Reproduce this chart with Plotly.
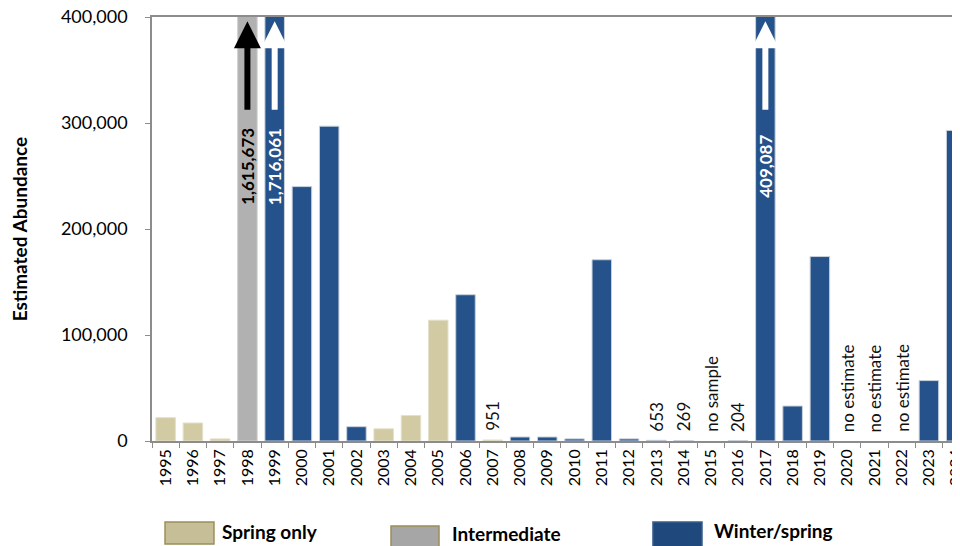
import plotly.graph_objects as go

years = [str(y) for y in range(1995, 2025)]
values = [22000, 17000, 2000, 1615673, 1716061, 240000, 297000, 13500, 11500, 24000,
          114000, 138000, 951, 3800, 3800, 2000, 171000, 2000, 653, 269,
          None, 204, 409087, 33000, 174000, None, None, None, 57000, 293000]
types = ["Spring only", "Spring only", "Spring only", "Intermediate", "Winter/spring",
         "Winter/spring", "Winter/spring", "Winter/spring", "Spring only", "Spring only",
         "Spring only", "Winter/spring", "Spring only", "Winter/spring", "Winter/spring",
         "Winter/spring", "Winter/spring", "Winter/spring", "Winter/spring", "Winter/spring",
         "Winter/spring", "Winter/spring", "Winter/spring", "Winter/spring", "Winter/spring",
         "Winter/spring", "Winter/spring", "Winter/spring", "Winter/spring", "Winter/spring"]
small_labels = {"2007": "951", "2013": "653", "2014": "269", "2015": "no sample",
                "2016": "204", "2020": "no estimate", "2021": "no estimate", "2022": "no estimate"}
big_labels = {"1998": "1,615,673", "1999": "1,716,061", "2017": "409,087"}
y_ticks = [0, 100000, 200000, 300000, 400000]

colors = {"Spring only": "#D1CAA3", "Intermediate": "#B1B1B1", "Winter/spring": "#25528A"}
outline = {"Spring only": "#E4E0CC", "Intermediate": "#D0D0D0", "Winter/spring": "#C9D1DC"}
legend_fill = {"Spring only": "#C5BE96", "Intermediate": "#A6A6A6", "Winter/spring": "#1F497D"}
legend_line = {"Spring only": "#9C8F5A", "Intermediate": "#9C8F5A", "Winter/spring": "#385D8A"}
font = "Lato"

fig = go.Figure()
for t in ["Spring only", "Intermediate", "Winter/spring"]:
    fig.add_trace(go.Bar(
        x=years,
        y=[v if tp == t else None for v, tp in zip(values, types)],
        name=t, marker=dict(color=colors[t], line=dict(color=outline[t], width=1)),
        width=0.716, showlegend=False))

annotations = []
for yr, txt in small_labels.items():
    i = years.index(yr)
    v = values[i] or 0
    annotations.append(dict(x=i, y=v, xref="x", yref="y", text=txt, textangle=-90,
                            showarrow=False, xanchor="center", yanchor="bottom", yshift=7,
                            font=dict(family=font, size=17, color="#111111")))
for yr, txt in big_labels.items():
    i = years.index(yr)
    tp = types[i]
    col = "#000000" if tp == "Intermediate" else "#FFFFFF"
    annotations.append(dict(x=i, y=259000, xref="x", yref="y", text="<b>" + txt + "</b>",
                            textangle=-90, showarrow=False, xanchor="center", yanchor="middle",
                            font=dict(family=font, size=17, color=col)))
    annotations.append(dict(x=i, y=396000, ax=i, ay=311000, axref="x", ayref="y",
                            xref="x", yref="y", text="", showarrow=True, arrowhead=2,
                            arrowsize=0.9, arrowwidth=6, arrowcolor=col))

# legend (drawn as boxes + labels in paper coordinates)
leg = [("Spring only", 0.0161, 0.0767, -0.243, -0.191, 0.0842, -0.2146),
       ("Intermediate", 0.2958, 0.3552, -0.26, -0.2005, 0.3688, -0.217),
       ("Winter/spring", 0.620, 0.6807, -0.26, -0.191, 0.693, -0.21)]
shapes = []
for name, x0, x1, y0, y1, lx, ly in leg:
    shapes.append(dict(type="rect", xref="paper", yref="paper", x0=x0, x1=x1,
                       y0=y0, y1=y1, fillcolor=legend_fill[name],
                       line=dict(color=legend_line[name], width=1.5)))
    annotations.append(dict(xref="paper", yref="paper", x=lx, y=ly, text="<b>" + name + "</b>",
                            showarrow=False, xanchor="left", yanchor="middle",
                            font=dict(family=font, size=19, color="#000000")))

fig.update_layout(
    width=952, height=538, margin=dict(l=144, r=0, t=9, b=105),
    paper_bgcolor="white", plot_bgcolor="white", barmode="overlay",
    annotations=annotations, shapes=shapes,
    xaxis=dict(type="category", range=[-0.5, 29.14], tickangle=-90, showline=True,
               linecolor="#8C8C8C", linewidth=1.5, mirror=True, ticks="outside",
               tickson="boundaries", ticklen=5, tickcolor="#8C8C8C", automargin=False,
               ticklabeloverflow="allow",
               tickfont=dict(family=font, size=16, color="#000000"), showgrid=False),
    yaxis=dict(range=[0, 400000], tickvals=y_ticks, tickformat=",d", showline=True,
               linecolor="#8C8C8C", linewidth=1.5, ticks="outside", ticklen=5,
               tickcolor="#8C8C8C", showgrid=False, zeroline=False, automargin=False,
               ticklabelstandoff=14, ticklabeloverflow="allow",
               tickfont=dict(family=font, size=18, color="#000000"),
               title=dict(text="<b>Estimated Abundance</b>", standoff=34,
                          font=dict(family=font, size=19, color="#000000"))),
)
fig.write_html("out.html")
